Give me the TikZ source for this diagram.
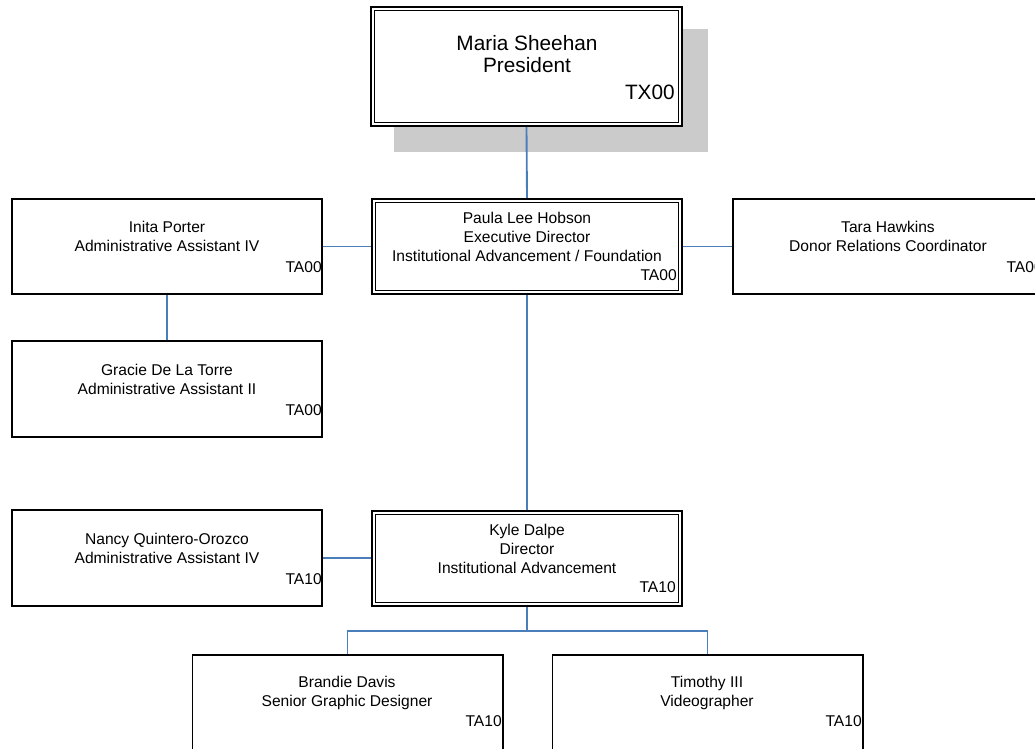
\documentclass[tikz,border=0pt]{standalone}
\usepackage{fontspec}
\setmainfont{Liberation Sans}
\definecolor{connblue}{HTML}{4A7EBB}
\definecolor{shadowgray}{HTML}{CBCBCB}
\tikzset{
  box/.style={draw=black, line width=1.3pt, fill=white, rectangle, inner sep=0pt, outer sep=0.65pt, minimum width=232.7pt, minimum height=71.5pt},
  dbox/.style={draw=black, line width=1.2pt, double=white, double distance=1.6pt, fill=white, rectangle, inner sep=0pt, outer sep=2pt, minimum width=230pt, minimum height=68.75pt},
  txt/.style={inner sep=0pt, align=center, font=\fontsize{11.7}{14.2}\selectfont},
  code/.style={inner sep=0pt, anchor=east, font=\fontsize{11.7}{14.2}\selectfont},
  big/.style={inner sep=0pt, align=center, font=\fontsize{15.6}{16.5}\selectfont},
  link/.style={draw=connblue, line width=1.4pt},
}
\begin{document}
\begin{tikzpicture}[x=0.75pt,y=-0.75pt]
\useasboundingbox (0,0) rectangle (1035,749);
\clip (0,0) rectangle (1035,749);
% shadow of the top box
\fill[shadowgray] (394,29) rectangle (708,152);
% boxes
\node[dbox, minimum width=230.75pt, minimum height=86.75pt] (pres) at (526.5,66.5) {};
\node[dbox] (paula) at (527,246.5) {};
\node[dbox] (kyle) at (527,558.5) {};
\node[box] (inita) at (167,246.5) {};
\node[box] (gracie) at (167,389) {};
\node[box] (tara) at (888,246.5) {};
\node[box] (nancy) at (167,558) {};
\node[box] (brandie) at (347.5,702.5) {};
\node[box] (timothy) at (707.5,702.5) {};
% connectors
\coordinate (bar) at (527,631);
\draw[link] (pres.south) -- (paula.north);
\draw[link] (inita.east) -- (paula.west);
\draw[link] (paula.east) -- (tara.west);
\draw[link] (inita.south) -- (gracie.north);
\draw[link] (paula.south) -- (kyle.north);
\draw[link] (nancy.east) -- (kyle.west |- nancy.east);
\draw[link] (kyle.south) -- (bar) -| (brandie.north);
\draw[link] (bar) -| (timothy.north);
% texts
\node[big] (presname) at (527,54) {Maria Sheehan\\President};
\node[big, anchor=east] (prescode) at (675,92) {TX00};
\node[txt] (paulaname) at (527,236.5) {Paula Lee Hobson\\Executive Director\\Institutional Advancement / Foundation};
\node[code] (paulacode) at (677,275) {TA00};
\node[txt] (kylename) at (527,549) {Kyle Dalpe\\Director\\Institutional Advancement};
\node[code] (kylecode) at (676,587) {TA10};
\node[txt] (initaname) at (167,236) {Inita Porter\\Administrative Assistant IV};
\node[code] (initacode) at (322,267) {TA00};
\node[txt] (graciename) at (167,379) {Gracie De La Torre\\Administrative Assistant II};
\node[code] (graciecode) at (322,410) {TA00};
\node[txt] (taraname) at (888,236) {Tara Hawkins\\Donor Relations Coordinator};
\node[code] (taracode) at (1043,267) {TA00};
\node[txt] (nancyname) at (167,548) {Nancy Quintero-Orozco\\Administrative Assistant IV};
\node[code] (nancycode) at (322,579) {TA10};
\node[txt] (brandiename) at (347,692.5) {Brandie Davis\\Senior Graphic Designer};
\node[code] (brandiecode) at (502,721) {TA10};
\node[txt] (timothyname) at (707,692.5) {Timothy III\\Videographer};
\node[code] (timothycode) at (862,721) {TA10};
\end{tikzpicture}
\end{document}
